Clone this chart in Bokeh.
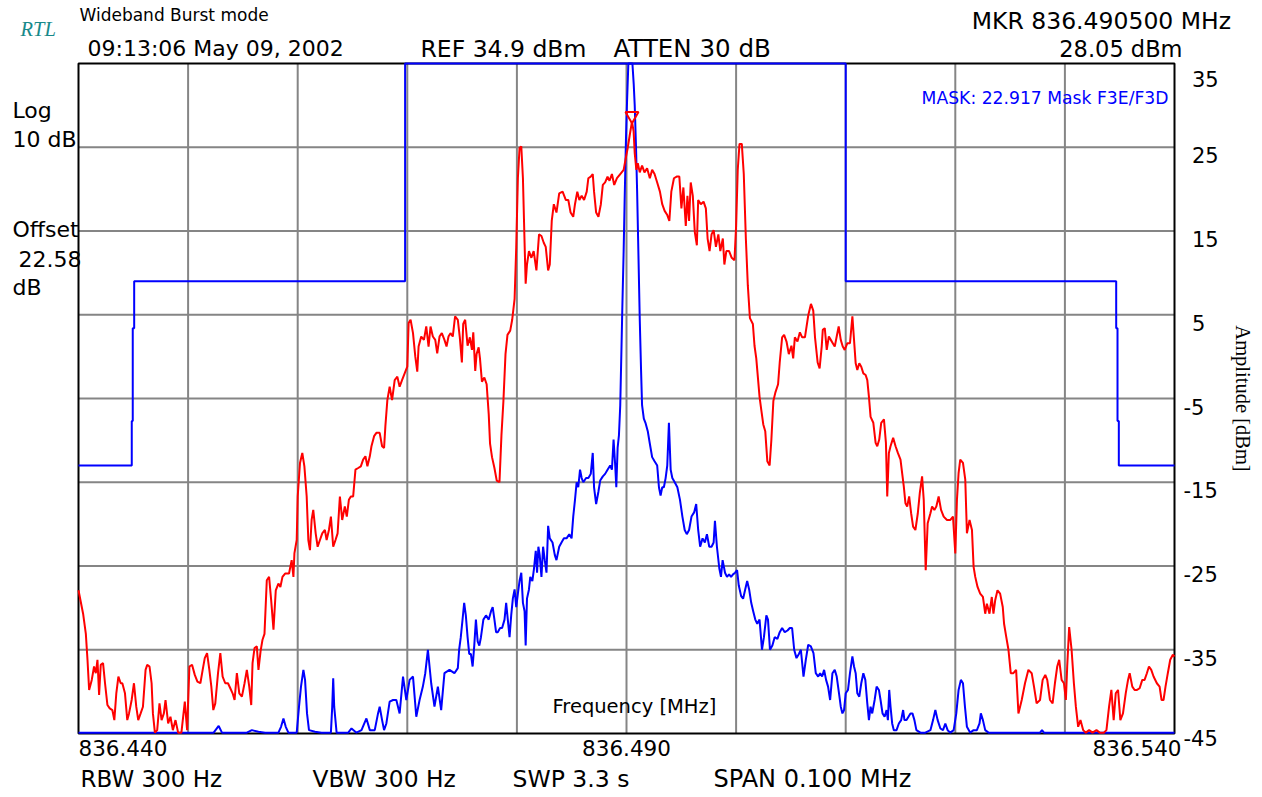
import math
from bokeh.plotting import figure
from bokeh.models import Range1d, Label
from bokeh.embed import file_html
from bokeh.resources import INLINE

# ---------------- data ----------------
start_mhz = 836.440
span_khz = 100.0
y_top, y_bottom = 35.0, -45.0

x_grid_khz = [10, 20, 30, 40, 50, 60, 70, 80, 90]
y_grid_dbm = [25, 15, 5, -5, -15, -25, -35]
x_tick_khz = [0, 50, 100]
x_tick_labels = ["836.440", "836.490", "836.540"]
y_tick_values = [35, 25, 15, 5, -5, -15, -25, -35, -45]
y_tick_labels = ["35", "25", "15", "5", "-5", "-15", "-25", "-35", "-45"]

# emission mask (offset kHz from start, dBm)
mask_khz = [0, 4.86, 4.86, 4.95, 4.95, 5.08, 5.08, 29.8, 29.8, 70.0, 70.0,
            94.68, 94.68, 94.8, 94.8, 94.92, 94.92, 100]
mask_dbm = [-13.0, -13.0, -7.7, -7.7, 3.4, 3.4, 9.0, 9.0, 35.0, 35.0, 9.0,
            9.0, 3.4, 3.4, -7.7, -7.7, -13.0, -13.0]

# red trace (offset kHz, dBm)
red_trace = [
    (0.0, -27.9), (0.42, -30.7), (0.67, -33.1), (0.82, -36.2), (0.97, -39.8), (1.21, -38.6),
    (1.42, -37.0), (1.58, -37.8), (1.73, -36.2), (1.88, -40.4), (2.03, -36.8), (2.24, -36.6),
    (2.42, -39.0), (2.64, -41.6), (2.85, -42.0), (3.09, -42.2), (3.27, -43.4), (3.45, -40.2),
    (3.64, -38.2), (3.85, -39.0), (4.0, -39.0), (4.24, -40.2), (4.45, -43.4), (4.61, -42.6),
    (4.85, -41.0), (5.06, -39.0), (5.27, -41.8), (5.45, -43.4), (5.67, -42.6), (5.88, -41.8),
    (6.12, -37.4), (6.27, -36.8), (6.48, -37.0), (6.67, -39.0), (6.79, -42.6), (6.97, -44.9),
    (7.18, -44.6), (7.39, -41.4), (7.58, -43.4), (7.79, -42.6), (7.94, -41.0), (8.18, -43.8),
    (8.39, -43.0), (8.61, -44.6), (8.85, -43.4), (9.09, -44.9), (9.39, -44.9), (9.70, -41.2),
    (9.91, -44.6), (10.12, -37.0), (10.36, -36.8), (10.61, -38.0), (10.85, -38.8), (11.12, -39.0),
    (11.33, -37.4), (11.52, -36.0), (11.73, -35.4), (11.94, -37.4), (12.12, -39.4), (12.30, -42.2),
    (12.48, -41.4), (12.73, -37.8), (12.94, -35.4), (13.15, -38.2), (13.39, -39.0), (13.64, -39.0),
    (13.85, -39.6), (14.06, -40.2), (14.24, -41.0), (14.45, -37.8), (14.67, -40.2), (14.91, -40.6),
    (15.15, -39.0), (15.36, -37.4), (15.58, -39.4), (15.76, -41.6), (15.88, -36.6), (16.06, -34.8),
    (16.27, -34.6), (16.42, -37.4), (16.61, -35.2), (16.79, -33.8), (16.97, -33.1), (17.18, -26.7),
    (17.39, -26.3), (17.58, -29.1), (17.79, -32.6), (18.0, -27.9), (18.24, -27.1), (18.42, -27.5),
    (18.61, -26.3), (18.85, -25.9), (19.21, -25.9), (19.45, -24.3), (19.61, -26.3), (19.70, -23.5),
    (19.91, -21.9), (20.0, -16.7), (20.21, -12.7), (20.42, -11.5), (20.61, -13.1), (20.82, -16.7),
    (20.97, -21.9), (21.12, -23.1), (21.27, -19.5), (21.42, -18.3), (21.64, -21.1), (21.82, -22.7),
    (22.03, -21.9), (22.24, -21.1), (22.48, -20.7), (22.64, -21.9), (22.85, -20.7), (23.03, -19.1),
    (23.24, -22.7), (23.45, -21.9), (23.64, -21.1), (23.85, -16.7), (24.06, -19.5), (24.30, -17.9),
    (24.48, -19.1), (24.67, -17.1), (24.85, -16.7), (25.06, -16.7), (25.27, -13.5), (25.52, -13.3),
    (25.76, -13.1), (25.97, -12.3), (26.18, -11.9), (26.36, -13.1), (26.58, -11.9), (26.73, -10.7),
    (26.97, -9.5), (27.18, -9.1), (27.48, -9.1), (27.70, -10.7), (27.88, -10.9), (28.0, -8.3),
    (28.18, -5.2), (28.39, -3.6), (28.61, -5.2), (28.85, -2.8), (29.09, -2.4), (29.30, -3.6),
    (29.52, -2.8), (29.76, -2.0), (30.0, -1.2), (30.12, 4.0), (30.30, 4.4), (30.52, 2.8),
    (30.73, 0.0), (30.91, -1.8), (31.03, 1.2), (31.27, 2.4), (31.52, 2.0), (31.73, 3.6),
    (31.94, 1.2), (32.12, 3.6), (32.33, 2.4), (32.55, 2.0), (32.73, 0.4), (32.94, 2.4),
    (33.15, 2.8), (33.39, 2.0), (33.58, 1.2), (33.76, 2.4), (33.94, 2.8), (34.15, 2.4),
    (34.36, 4.8), (34.61, 4.4), (34.79, 2.3), (34.98, -0.7), (35.10, 3.9), (35.28, 4.4),
    (35.50, 1.3), (35.71, 2.3), (35.90, 0.8), (36.02, 2.9), (36.20, -1.7), (36.32, 0.3),
    (36.51, 1.1), (36.63, -0.2), (36.81, -3.0), (37.03, -2.5), (37.24, -3.3), (37.43, -6.9),
    (37.55, -10.4), (37.73, -12.0), (37.95, -13.3), (38.16, -14.8), (38.41, -15.0), (38.59, -9.4),
    (38.77, -5.3), (38.96, 0.3), (39.14, 2.6), (39.39, 3.1), (39.57, 4.4), (39.79, 6.9),
    (39.94, 13.1), (40.09, 21.3), (40.24, 24.9), (40.40, 25.1), (40.55, 21.3), (40.70, 13.6),
    (40.80, 8.7), (40.92, 11.0), (41.10, 12.6), (41.32, 11.8), (41.53, 12.6), (41.78, 10.3),
    (42.02, 14.6), (42.24, 14.4), (42.45, 13.6), (42.63, 13.1), (42.85, 10.3), (43.00, 11.0),
    (43.18, 16.2), (43.37, 18.2), (43.61, 17.2), (43.86, 19.5), (44.17, 19.7), (44.47, 18.7),
    (44.69, 18.7), (44.90, 17.2), (45.14, 16.7), (45.30, 18.2), (45.51, 19.7), (45.70, 18.7),
    (45.91, 19.2), (46.13, 18.7), (46.37, 19.7), (46.52, 21.3), (46.74, 21.5), (46.92, 21.8),
    (47.04, 19.7), (47.23, 17.2), (47.44, 16.7), (47.66, 18.2), (47.84, 20.5), (48.05, 20.8),
    (48.27, 21.5), (48.45, 21.0), (48.67, 21.8), (48.88, 20.5), (49.13, 21.3), (49.43, 21.8),
    (49.74, 22.3), (49.92, 23.6), (50.11, 24.9), (50.29, 26.4), (50.5, 28.05), (50.65, 26.9),
    (50.75, 24.3), (50.90, 22.3), (51.03, 23.1), (51.21, 22.0), (51.42, 22.8), (51.64, 22.0),
    (51.88, 22.5), (52.13, 21.3), (52.34, 22.3), (52.56, 21.8), (52.80, 20.8), (53.05, 19.7),
    (53.26, 18.2), (53.48, 17.4), (53.72, 16.9), (53.91, 16.2), (54.09, 19.7), (54.33, 21.3),
    (54.58, 21.5), (54.82, 21.5), (55.01, 17.7), (55.19, 20.2), (55.41, 15.6), (55.56, 19.2),
    (55.71, 16.2), (55.86, 20.8), (56.05, 19.2), (56.23, 14.9), (56.42, 13.3), (56.54, 18.7),
    (56.78, 18.2), (57.03, 18.5), (57.24, 17.7), (57.40, 14.1), (57.58, 12.6), (57.76, 14.6),
    (57.95, 15.1), (58.16, 13.1), (58.38, 14.6), (58.56, 12.6), (58.79, 14.1), (58.93, 11.0),
    (59.11, 12.6), (59.36, 12.6), (59.60, 11.8), (59.85, 11.5), (60.00, 15.6), (60.15, 22.3),
    (60.31, 25.4), (60.52, 25.4), (60.70, 21.8), (60.89, 14.1), (61.07, 8.5), (61.26, 4.6),
    (61.53, 3.9), (61.68, 1.3), (61.84, -0.2), (61.99, -2.5), (62.14, -4.8), (62.30, -6.4),
    (62.48, -8.1), (62.66, -8.9), (62.85, -12.5), (63.06, -13.0), (63.22, -9.9), (63.40, -5.3),
    (63.58, -4.3), (63.83, -3.3), (63.98, -0.7), (64.20, 2.3), (64.38, 2.6), (64.60, 1.8),
    (64.81, 0.3), (65.05, 1.3), (65.21, -0.2), (65.36, 2.3), (65.60, 1.8), (65.82, 2.9),
    (66.03, 2.3), (66.28, 2.3), (66.58, 4.9), (66.83, 6.3), (67.04, 5.5), (67.20, 2.3),
    (67.44, -0.7), (67.62, -1.4), (67.81, 1.2), (67.91, 3.2), (68.09, 3.4), (68.27, 0.8),
    (68.46, 2.4), (68.64, 2.0), (68.82, 1.6), (69.0, 1.2), (69.18, 2.4), (69.36, 3.6),
    (69.55, 2.0), (69.73, 1.2), (69.91, 0.8), (70.15, 1.6), (70.39, 1.6), (70.61, 4.8),
    (70.76, 2.0), (70.91, -0.8), (71.06, -1.6), (71.24, -0.8), (71.42, -1.2), (71.61, -2.0),
    (71.82, -2.2), (71.97, -2.8), (72.12, -4.8), (72.27, -7.2), (72.52, -7.9), (72.73, -10.3),
    (72.88, -10.7), (73.06, -9.9), (73.24, -7.9), (73.49, -7.5), (73.67, -10.3), (73.79, -16.7),
    (73.94, -11.5), (74.09, -10.7), (74.33, -9.7), (74.55, -10.7), (74.76, -11.5), (75.0, -12.3),
    (75.15, -13.9), (75.30, -15.5), (75.45, -17.5), (75.61, -17.9), (75.79, -16.7), (75.97, -18.7),
    (76.15, -20.3), (76.36, -20.7), (76.58, -18.7), (76.76, -16.3), (76.97, -14.3), (77.12, -17.1),
    (77.30, -25.5), (77.48, -19.9), (77.73, -18.7), (77.88, -17.9), (78.09, -18.3), (78.27, -17.9),
    (78.48, -16.7), (78.70, -18.3), (78.94, -19.1), (79.24, -19.5), (79.55, -19.5), (79.79, -19.1),
    (80.0, -23.5), (80.15, -17.1), (80.30, -13.9), (80.45, -12.3), (80.70, -12.7), (80.91, -14.7),
    (81.06, -21.1), (81.30, -19.5), (81.52, -20.7), (81.67, -25.1), (81.82, -26.3), (82.03, -27.5),
    (82.27, -28.3), (82.52, -28.7), (82.73, -30.7), (82.88, -29.5), (83.12, -30.7), (83.33, -28.7),
    (83.48, -30.7), (83.64, -29.1), (83.85, -27.9), (84.09, -28.3), (84.33, -29.9), (84.45, -31.9),
    (84.64, -33.4), (84.85, -35.0), (85.06, -37.8), (85.30, -37.8), (85.55, -37.4), (85.76, -42.6),
    (86.06, -41.0), (86.36, -39.0), (86.67, -37.4), (86.97, -37.8), (87.18, -39.4), (87.42, -41.4),
    (87.73, -41.0), (87.97, -38.6), (88.21, -38.0), (88.39, -38.6), (88.64, -41.0), (88.88, -41.4),
    (89.09, -39.0), (89.30, -37.0), (89.48, -36.2), (89.70, -38.6), (89.91, -39.0), (90.09, -41.0),
    (90.21, -37.0), (90.39, -32.3), (90.61, -35.0), (90.82, -39.0), (91.0, -41.8), (91.21, -44.2),
    (91.42, -43.4), (91.67, -44.6), (91.91, -44.9), (92.21, -44.6), (92.52, -44.9), (92.88, -44.6),
    (93.18, -44.9), (93.55, -44.9), (93.79, -44.6), (94.03, -41.8), (94.24, -39.8), (94.45, -43.4),
    (94.64, -40.2), (94.85, -39.8), (95.06, -43.4), (95.30, -42.6), (95.55, -40.2), (95.76, -38.6),
    (95.91, -37.8), (96.15, -39.4), (96.36, -39.8), (96.58, -39.8), (96.82, -39.6), (97.06, -38.6),
    (97.27, -38.6), (97.48, -37.8), (97.67, -37.0), (97.88, -37.4), (98.09, -38.2), (98.39, -39.0),
    (98.64, -39.4), (98.82, -41.0), (99.0, -41.0), (99.18, -39.4), (99.39, -37.8), (99.61, -36.2),
    (99.85, -35.6), (100.0, -35.8),
]

# blue trace (offset kHz, dBm); the carrier peak is clipped at the top of the screen
blue_trace = [
    (0.0, -44.9), (12.33, -44.9), (12.79, -44.1), (13.09, -44.9), (15.36, -44.9), (15.82, -44.6),
    (16.42, -44.8), (17.03, -44.9), (18.24, -44.9), (18.48, -44.2), (18.7, -43.2), (18.91, -44.2),
    (19.15, -44.9), (19.91, -44.9), (20.12, -41.8), (20.30, -39.4), (20.52, -37.4), (20.67, -38.6),
    (20.85, -42.6), (21.03, -44.6), (21.58, -44.8), (22.18, -44.9), (23.03, -44.9), (23.15, -41.8),
    (23.24, -38.4), (23.33, -41.8), (23.55, -44.9), (24.61, -44.9), (24.91, -44.4), (25.36, -44.9),
    (25.82, -44.6), (26.27, -43.2), (26.58, -44.6), (27.03, -44.6), (27.33, -42.6), (27.48, -41.8),
    (27.70, -43.4), (27.88, -44.6), (28.09, -43.8), (28.39, -41.2), (28.70, -41.0), (29.0, -41.0),
    (29.30, -42.6), (29.61, -38.2), (29.91, -41.0), (30.21, -38.6), (30.52, -38.2), (30.82, -43.0),
    (31.12, -41.0), (31.42, -39.4), (31.64, -37.8), (31.88, -35.0), (32.03, -37.0), (32.18, -39.0),
    (32.48, -41.8), (32.79, -39.4), (33.09, -42.2), (33.39, -37.8), (33.85, -37.4), (34.30, -37.8),
    (34.61, -37.2), (34.73, -35.0), (34.88, -33.5), (35.04, -31.4), (35.19, -29.4), (35.34, -30.9),
    (35.50, -33.5), (35.65, -35.5), (35.80, -35.5), (35.96, -37.0), (36.11, -34.5), (36.26, -31.4),
    (36.42, -34.0), (36.57, -34.5), (36.72, -33.5), (36.94, -31.4), (37.18, -30.9), (37.43, -31.4),
    (37.64, -30.4), (37.79, -29.9), (37.95, -31.4), (38.10, -32.9), (38.25, -32.9), (38.47, -32.4),
    (38.65, -32.4), (38.87, -31.4), (39.02, -29.4), (39.17, -31.4), (39.33, -33.5), (39.48, -30.9),
    (39.63, -28.9), (39.79, -27.8), (39.94, -29.9), (40.09, -28.3), (40.24, -26.8), (40.40, -25.8),
    (40.55, -29.4), (40.70, -30.4), (40.80, -34.5), (40.92, -28.9), (41.10, -27.8), (41.22, -26.3),
    (41.41, -26.8), (41.56, -25.3), (41.72, -23.2), (41.84, -25.8), (41.96, -22.7), (42.08, -23.7),
    (42.24, -26.3), (42.39, -22.7), (42.54, -24.3), (42.70, -25.8), (42.85, -20.2), (43.0, -21.7),
    (43.25, -22.2), (43.46, -23.7), (43.61, -24.3), (43.86, -22.7), (44.07, -22.2), (44.29, -21.7),
    (44.53, -21.7), (44.78, -21.2), (44.99, -21.7), (45.14, -19.1), (45.30, -17.1), (45.45, -15.0),
    (45.60, -15.6), (45.76, -13.5), (45.91, -14.5), (46.06, -15.0), (46.31, -14.5), (46.52, -14.5),
    (46.74, -14.0), (46.92, -11.5), (47.04, -15.6), (47.23, -17.6), (47.44, -16.1), (47.60, -14.8),
    (47.84, -14.3), (48.05, -14.0), (48.27, -13.5), (48.51, -13.0), (48.67, -13.5), (48.82, -9.9),
    (48.97, -13.0), (49.07, -15.6), (49.19, -10.9), (49.31, -9.4), (49.43, -5.8), (49.53, 0.3),
    (49.62, 5.9), (49.74, 12.6), (49.83, 18.7), (49.95, 25.9), (50.05, 30.5), (50.17, 35.0),
    (50.35, 35.0), (50.54, 35.0), (50.66, 32.5), (50.75, 30.0), (50.87, 24.9), (50.97, 19.7),
    (51.09, 12.1), (51.21, 4.4), (51.33, -1.7), (51.42, -5.8), (51.58, -7.4), (51.73, -7.9),
    (51.94, -8.9), (52.13, -10.4), (52.34, -12.0), (52.56, -12.5), (52.80, -13.0), (52.96, -15.6),
    (53.11, -16.6), (53.26, -15.6), (53.41, -15.6), (53.57, -14.5), (53.72, -13.0), (53.87, -7.9),
    (54.03, -13.5), (54.18, -14.5), (54.40, -15.0), (54.64, -15.6), (54.88, -17.1), (55.10, -19.1),
    (55.31, -20.7), (55.50, -21.2), (55.71, -20.7), (55.93, -19.1), (56.17, -18.6), (56.36, -17.6),
    (56.54, -20.7), (56.72, -22.7), (56.94, -21.7), (57.15, -22.2), (57.34, -21.2), (57.55, -22.7),
    (57.76, -22.7), (57.95, -22.2), (58.07, -19.6), (58.25, -22.7), (58.47, -25.3), (58.62, -26.3),
    (58.77, -24.3), (58.99, -25.8), (59.17, -26.3), (59.36, -26.0), (59.54, -26.3), (59.72, -26.0),
    (59.91, -25.8), (60.09, -25.5), (60.24, -27.3), (60.46, -28.6), (60.64, -28.9), (60.83, -27.8),
    (61.01, -26.8), (61.19, -27.8), (61.38, -29.4), (61.56, -30.4), (61.75, -31.4), (61.93, -31.9),
    (62.14, -31.4), (62.36, -35.0), (62.54, -33.5), (62.76, -30.9), (62.91, -31.4), (63.09, -35.0),
    (63.31, -34.5), (63.52, -33.5), (63.77, -33.7), (63.98, -32.9), (64.20, -32.4), (64.44, -32.9),
    (64.69, -32.7), (64.90, -32.4), (65.11, -32.4), (65.30, -35.0), (65.51, -36.0), (65.73, -35.5),
    (65.91, -35.0), (66.15, -38.2), (66.36, -36.2), (66.58, -34.4), (66.82, -34.6), (67.06, -35.4),
    (67.27, -37.8), (67.49, -38.2), (67.67, -37.8), (67.85, -38.2), (68.03, -37.4), (68.21, -38.6),
    (68.39, -39.4), (68.58, -41.0), (68.79, -37.8), (69.0, -37.4), (69.18, -38.2), (69.39, -40.2),
    (69.55, -41.8), (69.70, -42.6), (69.85, -42.2), (70.0, -40.2), (70.21, -39.8), (70.39, -37.8),
    (70.61, -35.8), (70.76, -37.0), (70.91, -37.8), (71.06, -40.2), (71.24, -40.6), (71.42, -39.0),
    (71.61, -37.8), (71.79, -38.6), (71.97, -41.4), (72.12, -43.4), (72.27, -41.8), (72.42, -42.6),
    (72.64, -41.0), (72.82, -39.4), (73.03, -39.8), (73.18, -41.0), (73.36, -42.6), (73.55, -43.0),
    (73.73, -42.2), (73.85, -43.4), (73.97, -39.8), (74.09, -41.8), (74.24, -43.8), (74.39, -44.6),
    (74.64, -44.6), (74.85, -43.8), (75.06, -43.4), (75.24, -42.2), (75.36, -43.4), (75.55, -43.4),
    (75.73, -43.0), (75.91, -42.6), (76.09, -42.6), (76.27, -43.4), (76.45, -44.6), (76.82, -44.9),
    (77.27, -44.9), (77.73, -44.6), (77.97, -43.4), (78.18, -42.2), (78.39, -43.4), (78.64, -44.4),
    (78.88, -44.6), (79.09, -43.8), (79.30, -44.6), (79.55, -44.9), (79.85, -44.6), (80.09, -42.6),
    (80.30, -39.8), (80.51, -38.6), (80.70, -39.0), (80.88, -41.8), (81.06, -44.2), (81.36, -44.9),
    (81.67, -44.6), (81.97, -44.6), (82.21, -43.8), (82.33, -42.6), (82.52, -43.4), (82.73, -44.6),
    (83.03, -44.9), (87.73, -44.9), (87.91, -44.6), (88.09, -44.9), (100.0, -44.9),
]

marker_khz = 50.5
marker_dbm = 28.05

# ---------------- layout ----------------
W, H = 1262, 797
L, R, T, B = 78, 1174, 63, 733          # screen box of the analyzer graticule
kx = (R - L) / span_khz                 # px per kHz
ky = (B - T) / (y_top - y_bottom)       # px per dB
x_lo, x_hi = -L / kx, span_khz + (W - R) / kx
y_lo, y_hi = y_bottom - (H - B) / ky, y_top + T / ky

p = figure(width=W, height=H, x_range=Range1d(x_lo, x_hi), y_range=Range1d(y_lo, y_hi),
           output_backend="svg", toolbar_location=None,
           x_axis_location=None, y_axis_location=None,
           min_border=0, min_border_left=0, min_border_right=0, min_border_top=0, min_border_bottom=0)
p.title.visible = False
p.background_fill_color = "white"
p.border_fill_color = "white"
p.outline_line_color = None
p.xgrid.visible = False
p.ygrid.visible = False

# graticule
p.segment(x0=x_grid_khz, y0=[y_bottom] * len(x_grid_khz), x1=x_grid_khz, y1=[y_top] * len(x_grid_khz),
          line_color="#858585", line_width=2)
p.segment(x0=[0] * len(y_grid_dbm), y0=y_grid_dbm, x1=[span_khz] * len(y_grid_dbm), y1=y_grid_dbm,
          line_color="#858585", line_width=2)
p.quad(left=[0], right=[span_khz], bottom=[y_bottom], top=[y_top], fill_alpha=0,
       line_color="black", line_width=2)

p.line(mask_khz, mask_dbm, line_color="#0000ff", line_width=2)
p.line([k for k, _ in blue_trace], [d for _, d in blue_trace], line_color="#0000ff", line_width=2)
p.line([k for k, _ in red_trace], [d for _, d in red_trace], line_color="#ff0000", line_width=2)

# marker triangle: tip sits on the marker level
p.extra_y_ranges = {"mk": Range1d(y_lo - 0.7, y_hi - 0.7)}
p.scatter([marker_khz], [marker_dbm], marker="inverted_triangle", size=13, y_range_name="mk",
          line_color="#ff0000", line_width=2, fill_alpha=0)


def dx(cx):
    return (cx - L) / kx


def dy(cy):
    return y_top - (cy - T) / ky


def text(t, cx, cy, size, align="left", color="black", font="DejaVu Sans", style="normal", angle=0.0):
    p.add_layout(Label(x=dx(cx), y=dy(cy), text=t, text_align=align, text_baseline="middle",
                       text_font=font, text_font_size=f"{size}px", text_font_style=style,
                       text_color=color, angle=angle))


text("RTL", 20, 28, 20.5, color="#17898a", font="Liberation Serif", style="italic")
text("Wideband Burst mode", 79, 14, 17)
text("09:13:06 May 09, 2002", 87, 48, 22)
text("REF 34.9 dBm", 420, 48, 23.5)
text("ATTEN 30 dB", 613, 48, 24.5)
text("MKR  836.490500 MHz", 1238, 20, 23.5, align="right")
text("28.05 dBm", 1182, 48, 22.5, align="right")
text("Log", 12, 110, 22)
text("10 dB", 12, 139, 22)
text("Offset", 12, 229, 22)
text("22.58", 18, 258, 22)
text("dB", 12, 287, 22)
text("Frequency [MHz]", 552, 706, 19.5)
text("MASK: 22.917 Mask F3E/F3D", 1168, 97, 17.2, align="right", color="#0000ff")
text("RBW 300 Hz", 80, 778, 23)
text("VBW 300 Hz", 312, 778, 23.3)
text("SWP 3.3 s", 512, 778, 23.5)
text("SPAN 0.100 MHz", 713, 778, 24)
text("Amplitude [dBm]", 1242, 398, 20.5, align="center", font="Liberation Serif", angle=-math.pi / 2)

# right-hand amplitude tick labels
for i, (v, lab) in enumerate(zip(y_tick_values, y_tick_labels)):
    off = -8
    if i == 0:
        off = -15
    elif i == len(y_tick_values) - 1:
        off = -4
    p.add_layout(Label(x=dx(1191.5 if v >= 0 else 1183), y=v, y_offset=off, text=lab,
                       text_align="left", text_baseline="middle", text_font="DejaVu Sans",
                       text_font_size="21px", text_color="black"))

# bottom frequency tick labels
aligns = ["left", "center", "right"]
offs = [0, 0, 7]
for k, lab, a, o in zip(x_tick_khz, x_tick_labels, aligns, offs):
    p.add_layout(Label(x=k, y=dy(747), x_offset=o, text=lab, text_align=a, text_baseline="middle",
                       text_font="DejaVu Sans", text_font_size="21.5px", text_color="black"))

open("out.html", "w").write(file_html(p, INLINE))
